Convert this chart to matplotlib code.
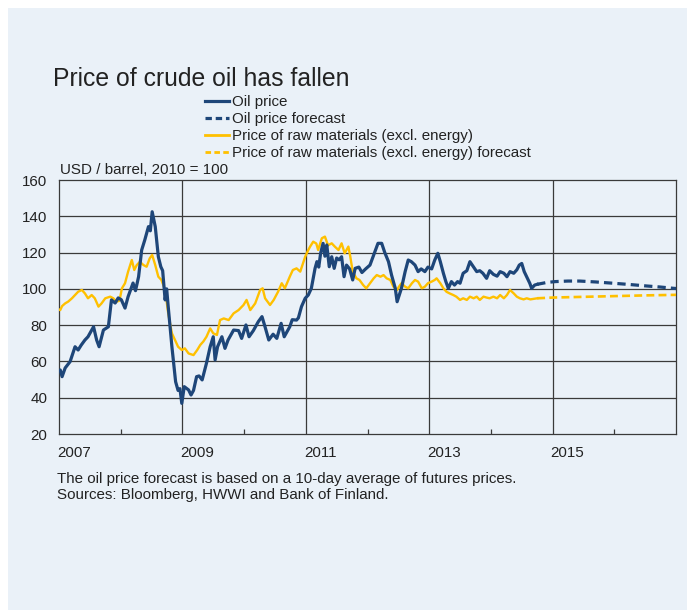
import matplotlib
matplotlib.use("Agg")
import matplotlib.pyplot as plt
import matplotlib.transforms as mtrans
from matplotlib.patches import Rectangle
from matplotlib.lines import Line2D
from matplotlib.ticker import FixedLocator, NullLocator

plt.rcParams['font.family'] = ['Liberation Sans', 'DejaVu Sans']

# ---------------- data ----------------
oil_t = [2007.00, 2007.02, 2007.05, 2007.10, 2007.18, 2007.26, 2007.31, 2007.36, 2007.42, 2007.47,
         2007.56, 2007.61, 2007.65, 2007.72, 2007.80, 2007.83, 2007.85, 2007.91, 2007.96, 2008.01,
         2008.07, 2008.12, 2008.20, 2008.24, 2008.29, 2008.34, 2008.39, 2008.45, 2008.48, 2008.51,
         2008.56, 2008.61, 2008.65, 2008.68, 2008.72, 2008.745, 2008.77, 2008.83, 2008.89, 2008.93,
         2008.96, 2008.99, 2009.03, 2009.10, 2009.14, 2009.18, 2009.23, 2009.27, 2009.32, 2009.39,
         2009.45, 2009.50, 2009.53, 2009.57, 2009.64, 2009.69, 2009.74, 2009.83, 2009.91, 2009.96,
         2010.03, 2010.08, 2010.15, 2010.23, 2010.29, 2010.34, 2010.40, 2010.47, 2010.53, 2010.60,
         2010.65, 2010.74, 2010.78, 2010.85, 2010.88, 2010.93, 2010.99, 2011.04, 2011.09, 2011.15,
         2011.18, 2011.21, 2011.24, 2011.28, 2011.31, 2011.34, 2011.38, 2011.42, 2011.46, 2011.50,
         2011.54, 2011.58, 2011.62, 2011.66, 2011.71, 2011.76, 2011.80, 2011.86, 2011.91, 2011.97,
         2012.04, 2012.12, 2012.17, 2012.23, 2012.28, 2012.34, 2012.39, 2012.45, 2012.48, 2012.51,
         2012.55, 2012.61, 2012.66, 2012.71, 2012.77, 2012.82, 2012.87, 2012.93, 2012.98, 2013.04,
         2013.09, 2013.14, 2013.18, 2013.23, 2013.27, 2013.31, 2013.36, 2013.41, 2013.46, 2013.50,
         2013.55, 2013.61, 2013.66, 2013.72, 2013.77, 2013.82, 2013.87, 2013.93, 2013.98, 2014.04,
         2014.10, 2014.15, 2014.21, 2014.26, 2014.31, 2014.37, 2014.42, 2014.46, 2014.50, 2014.54,
         2014.58, 2014.63, 2014.66, 2014.71, 2014.75]
oil_v = [55.0, 55.3, 51.6, 56.4, 59.9, 68.1, 66.3, 69.0, 71.8, 73.6,
         79.1, 71.8, 68.1, 77.3, 79.1, 88.3, 93.9, 92.2, 95.0, 94.0,
         89.4, 95.7, 103.2, 99.0, 106.7, 121.4, 126.9, 134.3, 132.0, 142.5,
         134.3, 117.7, 112.2, 110.0, 93.9, 100.0, 90.2, 68.1, 48.8, 44.0,
         45.0, 36.9, 46.1, 44.3, 41.5, 44.0, 51.6, 52.0, 49.8, 59.0,
         68.1, 73.6, 60.8, 68.1, 73.6, 67.2, 71.8, 77.3, 77.0, 72.7,
         80.1, 73.6, 77.0, 81.9, 84.7, 79.0, 71.8, 75.0, 72.7, 81.0,
         73.6, 79.1, 83.0, 82.8, 84.0, 90.2, 94.8, 96.6, 100.3, 111.3,
         115.0, 112.0, 119.6, 125.1, 118.0, 124.2, 112.2, 117.7, 111.3, 117.0,
         116.0, 117.7, 106.7, 113.1, 111.0, 104.9, 111.3, 112.0, 109.0, 111.0,
         113.1, 120.5, 125.1, 125.1, 120.0, 115.0, 107.6, 100.3, 92.9, 96.0,
         100.3, 109.5, 115.9, 115.0, 113.1, 109.5, 111.0, 109.5, 112.0, 111.0,
         115.9, 119.6, 115.0, 108.6, 104.0, 100.3, 104.0, 102.1, 104.0, 103.1,
         108.6, 110.0, 115.0, 112.0, 109.5, 110.0, 108.6, 105.8, 110.0, 108.0,
         107.0, 109.5, 108.6, 106.7, 109.5, 108.6, 110.5, 113.1, 114.0, 109.5,
         106.7, 103.1, 100.3, 102.1, 102.5]

oil_fc_t = [2014.75, 2014.90, 2015.04, 2015.25, 2015.44, 2015.70, 2015.98, 2016.25, 2016.52, 2016.75, 2016.96, 2017.00]
oil_fc_v = [102.5, 103.5, 104.0, 104.3, 104.3, 103.8, 103.1, 102.4, 101.6, 101.0, 100.3, 100.2]

raw_t = [2007.00, 2007.02, 2007.05, 2007.10, 2007.15, 2007.21, 2007.26, 2007.31, 2007.37, 2007.42,
         2007.47, 2007.53, 2007.58, 2007.64, 2007.69, 2007.75, 2007.83, 2007.88, 2007.93, 2007.98,
         2008.02, 2008.07, 2008.12, 2008.18, 2008.22, 2008.26, 2008.31, 2008.37, 2008.42, 2008.47,
         2008.51, 2008.56, 2008.61, 2008.66, 2008.72, 2008.77, 2008.83, 2008.88, 2008.93, 2008.99,
         2009.04, 2009.10, 2009.18, 2009.24, 2009.29, 2009.34, 2009.39, 2009.45, 2009.50, 2009.56,
         2009.61, 2009.67, 2009.75, 2009.83, 2009.91, 2009.99, 2010.04, 2010.10, 2010.18, 2010.26,
         2010.30, 2010.34, 2010.42, 2010.48, 2010.55, 2010.61, 2010.66, 2010.74, 2010.79, 2010.85,
         2010.91, 2010.99, 2011.04, 2011.07, 2011.12, 2011.17, 2011.20, 2011.26, 2011.31, 2011.36,
         2011.42, 2011.47, 2011.53, 2011.58, 2011.63, 2011.69, 2011.72, 2011.76, 2011.82, 2011.87,
         2011.93, 2011.98, 2012.04, 2012.10, 2012.15, 2012.21, 2012.26, 2012.31, 2012.37, 2012.42,
         2012.48, 2012.51, 2012.55, 2012.61, 2012.66, 2012.72, 2012.77, 2012.82, 2012.88, 2012.93,
         2012.98, 2013.04, 2013.09, 2013.12, 2013.18, 2013.23, 2013.28, 2013.33, 2013.39, 2013.44,
         2013.50, 2013.55, 2013.61, 2013.66, 2013.72, 2013.77, 2013.82, 2013.88, 2013.93, 2013.98,
         2014.04, 2014.10, 2014.15, 2014.21, 2014.26, 2014.31, 2014.37, 2014.42, 2014.47, 2014.53,
         2014.58, 2014.64, 2014.70, 2014.75]
raw_v = [88.5, 88.3, 90.5, 92.0, 93.0, 94.8, 96.6, 98.4, 99.4, 97.5,
         94.8, 96.6, 94.8, 90.2, 92.0, 94.8, 95.7, 94.8, 92.9, 93.5,
         100.3, 103.1, 109.5, 115.9, 110.4, 113.1, 114.9, 113.1, 112.2, 116.8,
         118.7, 113.1, 106.7, 104.9, 99.4, 86.5, 75.5, 71.8, 68.1, 66.3,
         67.2, 64.4, 63.5, 66.3, 69.1, 71.0, 73.6, 78.2, 75.5, 74.6,
         82.8, 83.7, 82.8, 86.5, 88.3, 91.1, 93.9, 88.3, 92.0, 99.4,
         100.3, 94.8, 91.1, 93.9, 98.4, 103.1, 100.3, 106.7, 110.4, 111.3,
         109.5, 117.7, 121.4, 123.3, 126.0, 125.0, 121.4, 127.9, 128.8, 124.0,
         125.1, 123.3, 121.4, 125.1, 119.6, 123.3, 118.0, 109.5, 105.8, 104.9,
         102.1, 100.3, 103.1, 105.8, 107.6, 106.7, 107.6, 105.8, 104.9, 101.2,
         99.4, 101.2, 103.1, 101.2, 100.3, 103.1, 104.9, 104.0, 100.3, 101.2,
         103.1, 104.0, 104.9, 105.8, 103.1, 100.3, 98.4, 97.5, 96.6, 95.7,
         93.9, 94.8, 93.9, 95.7, 94.8, 95.7, 93.9, 95.7, 95.2, 94.8,
         95.7, 94.8, 96.6, 94.8, 96.6, 99.4, 97.5, 95.7, 94.8, 94.2,
         94.8, 94.2, 94.5, 94.8]

raw_fc_t = [2014.75, 2015.00, 2015.50, 2016.00, 2016.50, 2017.00]
raw_fc_v = [94.8, 95.2, 95.6, 96.0, 96.4, 96.7]

year_ticks = [2007, 2009, 2011, 2013, 2015]
year_labels = ["2007", "2009", "2011", "2013", "2015"]
minor_ticks = [2008, 2010, 2012, 2014, 2016]
y_ticks = [20, 40, 60, 80, 100, 120, 140, 160]

legend_labels = ["Oil price", "Oil price forecast",
                 "Price of raw materials (excl. energy)",
                 "Price of raw materials (excl. energy) forecast"]

# ---------------- styling ----------------
BG = '#EAF1F8'
BLUE = '#1E4679'
YELLOW = '#FFC000'
TXT = '#222222'
GRID = '#3a3a3a'
FS = 10.9

W, H = 687, 610
fig = plt.figure(figsize=(W / 100, H / 100), dpi=100)
fig.patch.set_facecolor('white')
fig.patches.append(Rectangle((8 / W, 0), 1 - 8 / W, 1 - 8 / H, transform=fig.transFigure,
                             facecolor=BG, edgecolor='none', zorder=-10))

ax = fig.add_axes([59 / W, 1 - 434 / H, 617 / W, 254 / H])
ax.set_zorder(5)
ax.set_facecolor(BG)

ax.plot(oil_t, oil_v, color=BLUE, lw=2.3, solid_joinstyle='round', zorder=4)
ax.plot(oil_fc_t, oil_fc_v, color=BLUE, lw=2.3, dashes=(2.6, 1.6), zorder=4)
ax.plot(raw_t, raw_v, color=YELLOW, lw=1.7, solid_joinstyle='round', zorder=3)
ax.plot(raw_fc_t, raw_fc_v, color=YELLOW, lw=1.9, dashes=(3.0, 1.6), zorder=3)

ax.set_xlim(2007, 2017)
ax.set_ylim(20, 160)
ax.yaxis.set_major_locator(FixedLocator(y_ticks))
ax.xaxis.set_major_locator(FixedLocator(year_ticks))
ax.xaxis.set_minor_locator(NullLocator())
ax.yaxis.set_minor_locator(NullLocator())
ax.set_xticklabels(year_labels, ha='left')

# gridlines at the major positions only
for t in year_ticks[1:]:
    ax.axvline(t, color=GRID, lw=0.9, zorder=1)
for v in y_ticks[1:-1]:
    ax.axhline(v, color=GRID, lw=0.9, zorder=1)
# small inward tick marks at the intermediate years
tick_tr = mtrans.blended_transform_factory(ax.transData, ax.transAxes)
for t in minor_ticks:
    ax.plot([t, t], [0, 0.021], transform=tick_tr, color=GRID, lw=0.9, zorder=1,
            solid_capstyle='butt')

ax.tick_params(axis='x', which='major', length=0, pad=8.5, labelsize=FS, colors=TXT)
ax.tick_params(axis='y', which='major', length=0, pad=8.5, labelsize=FS, colors=TXT)
off = mtrans.ScaledTranslation(-2 / 100, 0, fig.dpi_scale_trans)
for lab in ax.get_xticklabels():
    lab.set_transform(lab.get_transform() + off)

for s in ax.spines.values():
    s.set_color(GRID)
    s.set_linewidth(0.9)

# ---------------- texts ----------------
fig.text(53 / W, 1 - 86 / H, "Price of crude oil has fallen", fontsize=17.8, color=TXT,
         ha='left', va='baseline')
fig.text(60 / W, 1 - 170 / H, "USD / barrel, 2010 = 100", fontsize=FS, color=TXT,
         ha='left', va='center')
fig.text(57 / W, 1 - 479 / H, "The oil price forecast is based on a 10-day average of futures prices.",
         fontsize=FS, color=TXT, ha='left', va='center')
fig.text(57 / W, 1 - 495 / H, "Sources: Bloomberg, HWWI and Bank of Finland.",
         fontsize=FS, color=TXT, ha='left', va='center')

handles = [Line2D([], [], color=BLUE, lw=2.3),
           Line2D([], [], color=BLUE, lw=2.3, dashes=(2.0, 1.2)),
           Line2D([], [], color=YELLOW, lw=2.0),
           Line2D([], [], color=YELLOW, lw=2.0, dashes=(2.0, 1.2))]
fig.legend(handles, legend_labels, loc='upper left', bbox_to_anchor=(205 / W, 1 - 95 / H),
           frameon=False, fontsize=FS, handlelength=1.6, handletextpad=0.2,
           labelspacing=0.2, borderpad=0, borderaxespad=0, labelcolor=TXT)

fig.savefig("out.png", dpi=100, facecolor=fig.get_facecolor())
